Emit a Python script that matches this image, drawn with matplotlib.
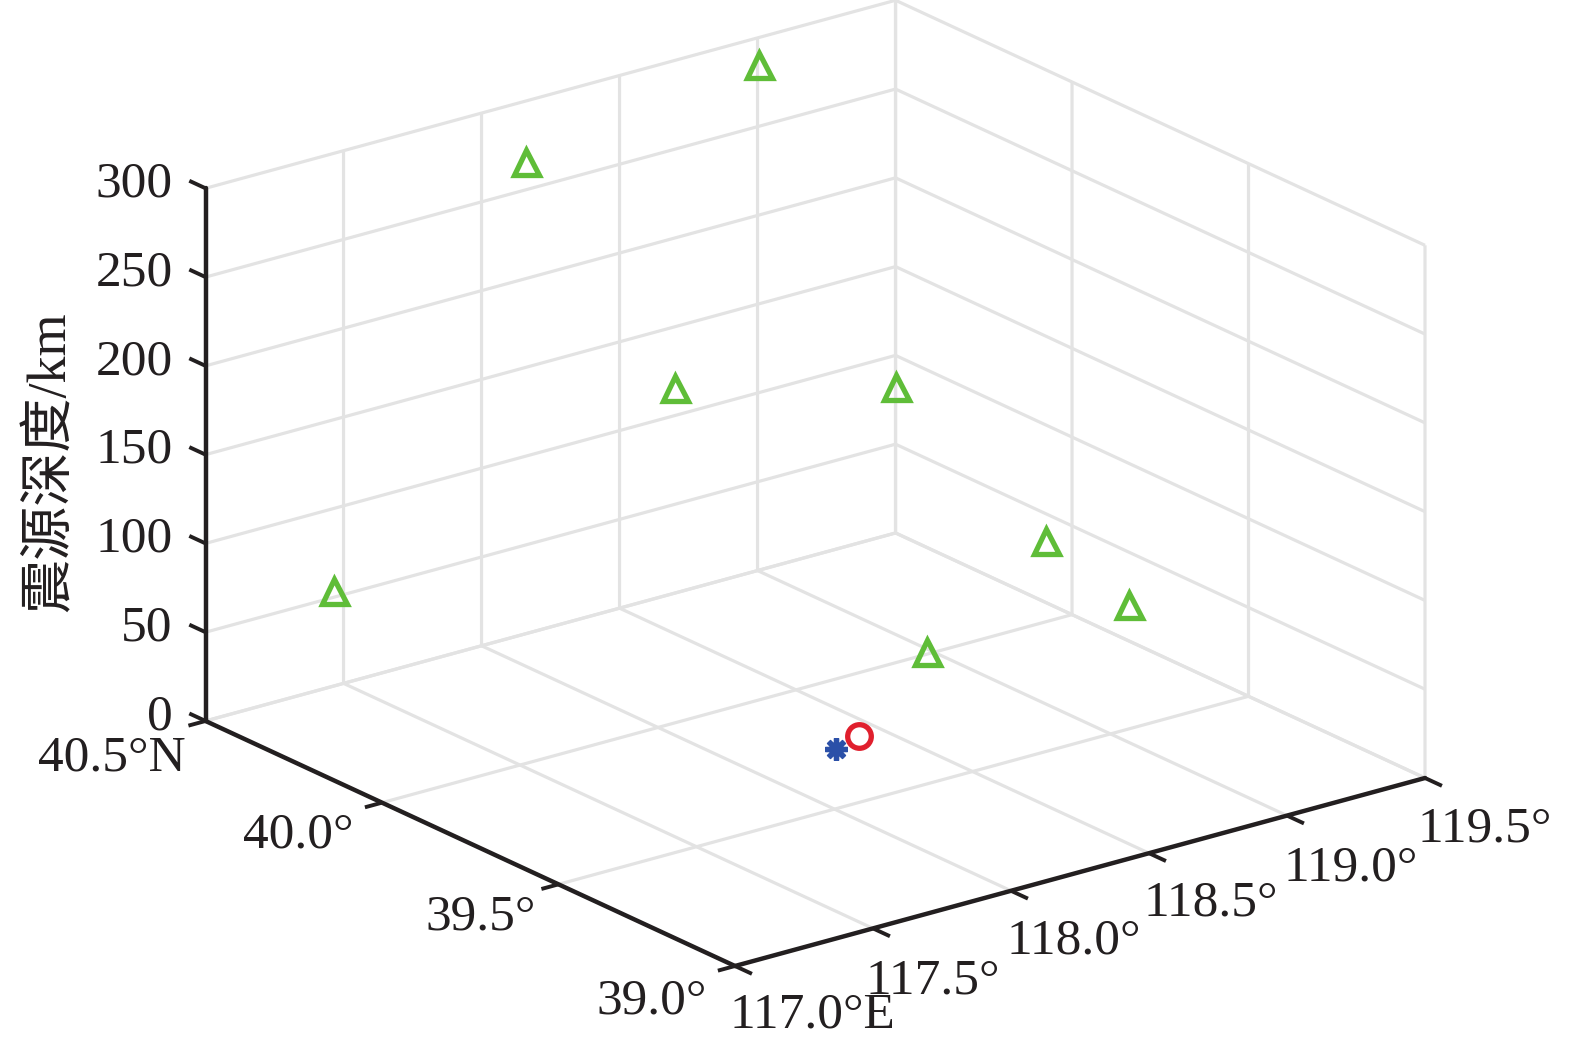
import matplotlib
matplotlib.use("Agg")
import matplotlib.pyplot as plt
from mpl_toolkits.mplot3d import proj3d

# ---------- data ----------
lon_ticks = [117.0, 117.5, 118.0, 118.5, 119.0, 119.5]
lat_ticks = [39.0, 39.5, 40.0, 40.5]
dep_ticks = [0, 50, 100, 150, 200, 250, 300]
lon_labels = ["117.0°E", "117.5°", "118.0°", "118.5°", "119.0°", "119.5°"]
lat_labels = ["39.0°", "39.5°", "40.0°", "40.5°N"]
dep_labels = ["0", "50", "100", "150", "200", "250", "300"]

station_lon = [118.94, 118.02, 118.38, 118.90, 118.92, 119.22, 118.54, 117.40]
station_lat = [40.45, 40.39, 40.25, 40.03, 39.62, 39.62, 39.66, 40.45]
station_dep = [292, 282, 152, 151, 101, 52, 51, 61]
source_lon, source_lat, source_dep = [118.32], [39.68], [11]
epic_lon, epic_lat, epic_dep = [118.21], [39.66], [10]

# ---------- style / layout ----------
W, H = 1575, 1046
INK = "#231f20"
GRID = "#e3e3e3"
GREEN = "#5fbd38"
RED = "#e01f2d"
BLUE = "#2b50a8"
FONT = ["Liberation Serif", "Noto Sans CJK SC"]
FS = 37

lon_off = [(-6, -49), (-8, -53), (-5, -50), (-6, -50), (-4, -53), (-7, -51)]
lat_off = [(-28, -35), (-23, -33), (-29, -33), (-20, -37)]
dep_off = (-33, 4)

plt.rcParams["font.family"] = FONT
fig = plt.figure(figsize=(W / 100, H / 100), dpi=100, facecolor="white")
ax = fig.add_axes([-0.2, -0.4, 1.4, 1.8], projection="3d", computed_zorder=False)
ax.set_proj_type("ortho")
ax.view_init(elev=20.8, azim=-127.5)
ax.patch.set_alpha(0)

ax.set_xlim(lon_ticks[0], lon_ticks[-1], view_margin=0)
ax.set_ylim(lat_ticks[0], lat_ticks[-1], view_margin=0)
ax.set_zlim(dep_ticks[0], dep_ticks[-1], view_margin=0)
ax.set_xticks(lon_ticks)
ax.set_yticks(lat_ticks)
ax.set_zticks(dep_ticks)
ax.set_xticklabels([])
ax.set_yticklabels([])
ax.set_zticklabels([])

for axis in (ax.xaxis, ax.yaxis, ax.zaxis):
    axis.set_pane_color((1, 1, 1, 0))
    axis.pane.set_edgecolor((1, 1, 1, 0))
    axis.line.set_color((1, 1, 1, 0))
    axis._axinfo["tick"]["inward_factor"] = 0
    axis._axinfo["tick"]["outward_factor"] = 0
    axis._axinfo["grid"].update(color=GRID, linewidth=2.3, linestyle="-")


def to_px(x, y, z):
    ax.apply_aspect()
    ax.M = ax.get_proj()
    X, Y, _ = proj3d.proj_transform(x, y, z, ax.M)
    return ax.transData.transform((X, Y))


# fit the 3-D box on the canvas
aspect = (870, 870, 570)
ax.set_box_aspect(aspect, zoom=1.0)
a = to_px(lon_ticks[0], lat_ticks[0], 0)
b = to_px(lon_ticks[-1], lat_ticks[0], 0)
ax.set_box_aspect(aspect, zoom=690.0 / (b[0] - a[0]))
a = to_px(lon_ticks[0], lat_ticks[0], 0)
pos = ax.get_position(original=True)
ax.set_position([pos.x0 + (735 - a[0]) / W, pos.y0 + ((H - 966) - a[1]) / H, pos.width, pos.height])

# axis lines
line_kw = dict(color=INK, lw=3.2, solid_capstyle="round", zorder=5)
ax.plot([lon_ticks[0], lon_ticks[-1]], [lat_ticks[0]] * 2, [0, 0], **line_kw)
ax.plot([lon_ticks[0]] * 2, [lat_ticks[0], lat_ticks[-1]], [0, 0], **line_kw)
ax.plot([lon_ticks[0]] * 2, [lat_ticks[-1]] * 2, [dep_ticks[0], dep_ticks[-1]], **line_kw)

# tick marks and labels
tick_kw = dict(color=INK, lw=2.8, solid_capstyle="butt", zorder=5)
LON_TL, LAT_TL, DEP_TL = 0.048, 0.062, 0.046
txt_kw = dict(fontsize=FS, color=INK, family=FONT)


def px_label(x, y, z, s, off, ha):
    p = to_px(x, y, z)
    fig.text((p[0] + off[0]) / W, (p[1] + off[1]) / H, s, ha=ha, va="center", **txt_kw)


for v, s, off in zip(lon_ticks, lon_labels, lon_off):
    ax.plot([v, v], [lat_ticks[0], lat_ticks[0] - LON_TL], [0, 0], **tick_kw)
    px_label(v, lat_ticks[0], 0, s, off, "left")

for v, s, off in zip(lat_ticks, lat_labels, lat_off):
    ax.plot([lon_ticks[0], lon_ticks[0] - LAT_TL], [v, v], [0, 0], **tick_kw)
    px_label(lon_ticks[0], v, 0, s, off, "right")

for v, s in zip(dep_ticks, dep_labels):
    ax.plot([lon_ticks[0]] * 2, [lat_ticks[-1], lat_ticks[-1] + DEP_TL], [v, v], **tick_kw)
    px_label(lon_ticks[0], lat_ticks[-1], v, s, dep_off, "right")

# markers
ax.plot(station_lon, station_lat, station_dep, ls="none", marker="^", ms=18, mfc="none",
        mec=GREEN, mew=3.8, zorder=7)
ax.plot(epic_lon, epic_lat, epic_dep, ls="none", marker=(8, 2, 0), ms=16, mec=BLUE, mew=3.8, zorder=7)
ax.plot(source_lon, source_lat, source_dep, ls="none", marker="o", ms=17, mfc="none",
        mec=RED, mew=3.8, zorder=8)

fig.text(51 / W, 1 - 462 / H, "震源深度/km", rotation=90, ha="center", va="center",
         fontsize=39, color=INK, family=FONT)

fig.savefig("out.png", dpi=100, facecolor="white")
